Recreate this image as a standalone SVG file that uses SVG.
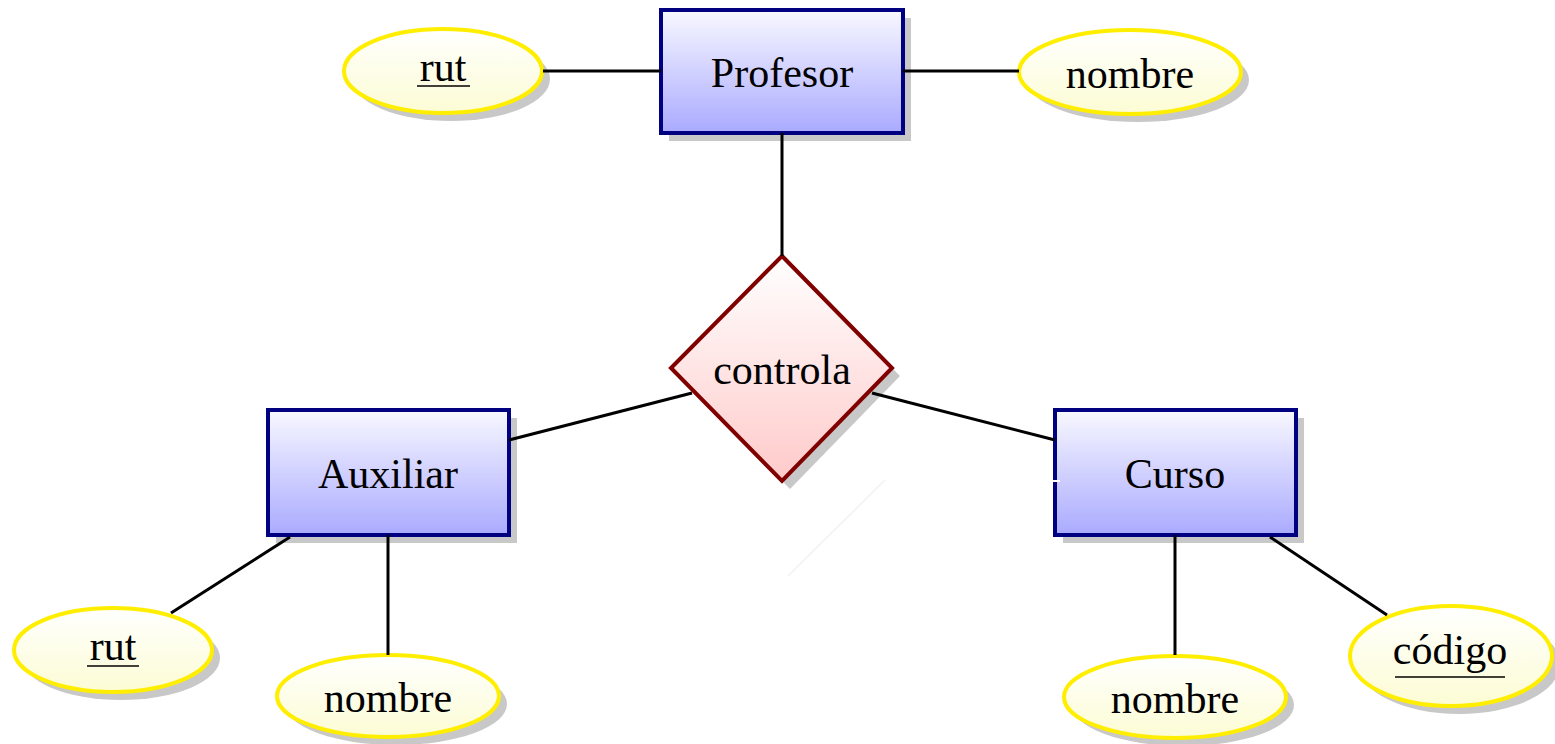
<svg xmlns="http://www.w3.org/2000/svg" width="1555" height="744" viewBox="0 0 1555 744">
<defs>
<linearGradient id="gBox" x1="0" y1="0" x2="0" y2="1">
<stop offset="0" stop-color="#f8f8ff"/><stop offset="1" stop-color="#aaaaff"/>
</linearGradient>
<linearGradient id="gAttr" x1="0" y1="0" x2="0" y2="1">
<stop offset="0" stop-color="#ffffff"/><stop offset="1" stop-color="#fcfcd4"/>
</linearGradient>
<linearGradient id="gRel" x1="0" y1="0" x2="0" y2="1">
<stop offset="0" stop-color="#ffffff"/><stop offset="1" stop-color="#ffcaca"/>
</linearGradient>
<style>
.box{fill:url(#gBox);stroke:#000080;stroke-width:4}
.attr{fill:url(#gAttr);stroke:#ffee00;stroke-width:4}
.rel{fill:url(#gRel);stroke:#800000;stroke-width:4;stroke-linejoin:miter}
.sh{fill:#c8c8c8;stroke:none}
.ln{stroke:#000;stroke-width:3;fill:none}
.ul{stroke:#000;stroke-width:1.6}
text{font-family:"Liberation Serif","Times New Roman",serif;font-size:42px;fill:#000;text-anchor:middle}
</style>
</defs>
<rect width="1555" height="744" fill="#fff"/>
<g id="profesor">
<rect class="sh" x="669" y="18" width="242" height="123"/>
<rect class="box" x="661" y="10" width="242" height="123"/>
<text x="782" y="87">Profesor</text>
</g>
<g id="auxiliar">
<rect class="sh" x="276" y="418" width="241" height="125"/>
<rect class="box" x="268" y="410" width="241" height="125"/>
<text x="388" y="488">Auxiliar</text>
</g>
<g id="curso">
<rect class="sh" x="1063" y="418" width="241" height="125"/>
<rect class="box" x="1055" y="410" width="241" height="125"/>
<text x="1175" y="488">Curso</text>
<line x1="1052" y1="481" x2="1060" y2="481" stroke="#fff" stroke-width="2"/>
</g>
<g id="controla">
<polygon class="sh" points="790,264 900,376 790,489 679,376"/>
<polygon class="rel" points="782,256 892,368 782,481 671,368"/>
<text x="782" y="384">controla</text>
</g>
<g id="rut-profesor">
<ellipse class="sh" cx="451" cy="79" rx="99" ry="42"/>
<ellipse class="attr" cx="443" cy="71" rx="99" ry="42"/>
<text x="443" y="81">rut</text>
<line class="ul" x1="417" y1="86" x2="470" y2="86"/>
</g>
<g id="nombre-profesor">
<ellipse class="sh" cx="1138" cy="80" rx="111" ry="42"/>
<ellipse class="attr" cx="1130" cy="72" rx="111" ry="42"/>
<text x="1130" y="88">nombre</text>
</g>
<g id="rut-auxiliar">
<ellipse class="sh" cx="121" cy="658" rx="99" ry="42"/>
<ellipse class="attr" cx="113" cy="650" rx="99" ry="42"/>
<text x="113" y="660">rut</text>
<line class="ul" x1="87" y1="666" x2="139" y2="666"/>
</g>
<g id="nombre-auxiliar">
<ellipse class="sh" cx="396" cy="704" rx="111" ry="41"/>
<ellipse class="attr" cx="388" cy="696" rx="111" ry="41"/>
<text x="388" y="712">nombre</text>
</g>
<g id="nombre-curso">
<ellipse class="sh" cx="1183" cy="705" rx="111" ry="41"/>
<ellipse class="attr" cx="1175" cy="697" rx="111" ry="41"/>
<text x="1175" y="713">nombre</text>
</g>
<g id="codigo-curso">
<ellipse class="sh" cx="1459" cy="664" rx="101" ry="50"/>
<ellipse class="attr" cx="1451" cy="656" rx="101" ry="50"/>
<text x="1450" y="664">código</text>
<line class="ul" x1="1395" y1="677" x2="1505" y2="677"/>
</g>
<g id="connectors">
<line class="ln" x1="543" y1="71" x2="661" y2="71"/>
<line class="ln" x1="903" y1="71" x2="1019" y2="71"/>
<line class="ln" x1="782" y1="133" x2="782" y2="256"/>
<line class="ln" x1="692" y1="393" x2="509" y2="440"/>
<line class="ln" x1="872" y1="393" x2="1055" y2="440"/>
<line class="ln" x1="290" y1="537" x2="171" y2="613"/>
<line class="ln" x1="388" y1="535" x2="388" y2="655"/>
<line class="ln" x1="1175" y1="535" x2="1175" y2="655"/>
<line class="ln" x1="1270" y1="537" x2="1387" y2="615"/>
<line x1="885" y1="480" x2="788" y2="576" stroke="#f2f2f2" stroke-width="1.5"/>
</g>
</svg>
